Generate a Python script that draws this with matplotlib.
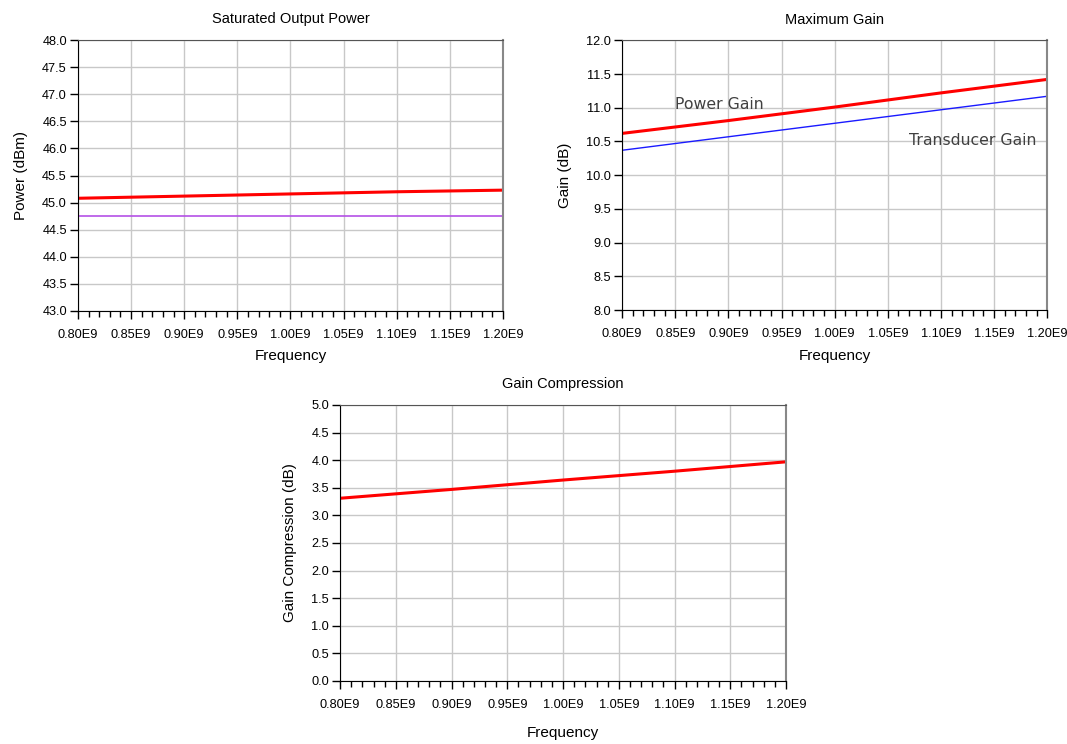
import matplotlib
matplotlib.use("Agg")
import matplotlib.pyplot as plt
from matplotlib.ticker import MultipleLocator, FuncFormatter

plt.rcParams['font.family'] = ['Liberation Sans', 'DejaVu Sans']

freq = [0.80e9, 0.90e9, 1.00e9, 1.10e9, 1.20e9]

psat = [45.08, 45.12, 45.16, 45.20, 45.23]
psat_ref = [44.75, 44.75, 44.75, 44.75, 44.75]

power_gain = [10.62, 10.81, 11.01, 11.22, 11.42]
trans_gain = [10.37, 10.57, 10.77, 10.97, 11.17]

gain_comp = [3.31, 3.47, 3.64, 3.80, 3.97]


def style_axes(ax, ylo, yhi, title, ylabel):
    ax.set_xlim(0.8e9, 1.2e9)
    ax.set_ylim(ylo, yhi)
    ax.xaxis.set_major_locator(MultipleLocator(0.05e9))
    ax.xaxis.set_minor_locator(MultipleLocator(0.01e9))
    ax.yaxis.set_major_locator(MultipleLocator(0.5))
    ax.xaxis.set_major_formatter(FuncFormatter(lambda v, p: "%.2fE9" % (v / 1e9)))
    ax.yaxis.set_major_formatter(FuncFormatter(lambda v, p: "%.1f" % v))
    ax.grid(True, color='#c8c8c8', lw=1.0)
    ax.set_axisbelow(True)
    ax.tick_params(axis='both', which='major', direction='out', length=6, width=1,
                   labelsize=9.2, color='black')
    ax.tick_params(axis='x', which='major', pad=7)
    ax.tick_params(axis='y', which='major', pad=2)
    ax.tick_params(axis='x', which='minor', direction='out', length=4.3, width=1)
    ax.spines['left'].set_color('black')
    ax.spines['bottom'].set_color('black')
    ax.spines['top'].set_color('#555555')
    ax.spines['right'].set_color('#888888')
    ax.spines['right'].set_linewidth(1.5)
    ax.set_title(title, fontsize=10.5, pad=12)
    ax.set_xlabel("Frequency", fontsize=11, labelpad=6)
    ax.set_ylabel(ylabel, fontsize=11, labelpad=10)


fig = plt.figure(figsize=(10.67, 7.44), dpi=100)

ax1 = fig.add_axes([0.0731, 0.582, 0.3983, 0.3642])
ax1.plot(freq, psat, color='red', lw=2.2)
ax1.plot(freq, psat_ref, color='#b450e6', lw=1.2)
style_axes(ax1, 43, 48, "Saturated Output Power", "Power (dBm)")

ax2 = fig.add_axes([0.583, 0.583, 0.3985, 0.3629])
ax2.plot(freq, power_gain, color='red', lw=2.2)
ax2.plot(freq, trans_gain, color='#1a1aff', lw=1.0)
style_axes(ax2, 8, 12, "Maximum Gain", "Gain (dB)")
ax2.text(0.85e9, 11.05, "Power Gain", family='DejaVu Sans', fontsize=11.3,
         color='#404040', va='center', ha='left')
ax2.text(1.07e9, 10.52, "Transducer Gain", family='DejaVu Sans', fontsize=11.3,
         color='#404040', va='center', ha='left')

ax3 = fig.add_axes([0.3187, 0.0847, 0.418, 0.371])
ax3.plot(freq, gain_comp, color='red', lw=2.2)
style_axes(ax3, 0, 5, "Gain Compression", "Gain Compression (dB)")
ax3.xaxis.labelpad = 11

fig.savefig("out.png", dpi=100)
